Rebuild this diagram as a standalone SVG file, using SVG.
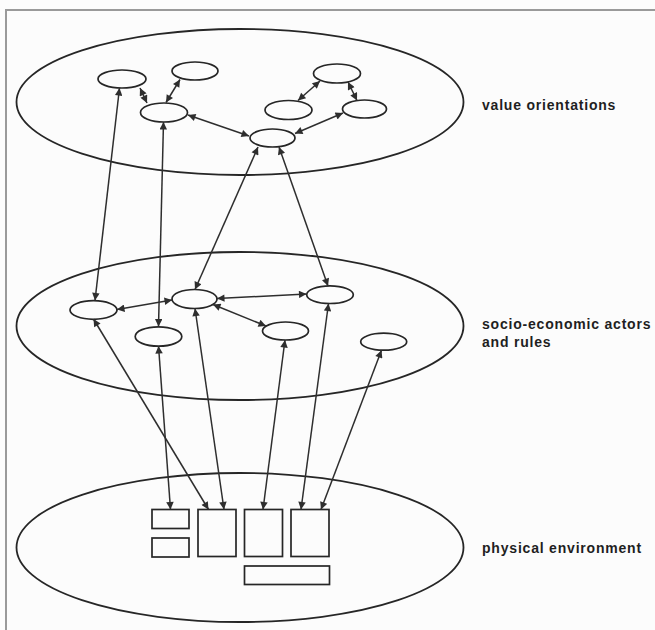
<svg xmlns="http://www.w3.org/2000/svg" width="655" height="630" viewBox="0 0 655 630">
<style>
.bg{fill:#fcfcfc}
.frame{fill:none;stroke:#9a9a9a;stroke-width:2}
.layer{fill:none;stroke:#262626;stroke-width:1.8}
.node{fill:none;stroke:#262626;stroke-width:1.7}
.conn line{stroke:#2e2e2e;stroke-width:1.5;marker-start:url(#ah);marker-end:url(#ah)}
.lbl{font-family:"Liberation Sans",Arial,sans-serif;font-weight:bold;font-size:14px;letter-spacing:0.8px;fill:#1f1f1f}
</style>
<defs>
<marker id="ah" viewBox="0 0 10 10" refX="10" refY="5" markerWidth="10" markerHeight="7.5" markerUnits="userSpaceOnUse" orient="auto-start-reverse">
<path d="M0,0 L10,5 L0,10 z" fill="#2e2e2e"/>
</marker>
</defs>
<rect class="bg" x="0" y="0" width="655" height="630"/>
<path class="frame" d="M6,630 L6,10 L655,10"/>

<g id="layer-values">
<ellipse class="layer" cx="240" cy="102" rx="223.5" ry="73"/>
<text class="lbl" x="482" y="110">value orientations</text>
</g>
<g id="layer-actors">
<ellipse class="layer" cx="240" cy="326" rx="223.5" ry="74"/>
<text class="lbl" x="482" y="329">socio-economic actors</text>
<text class="lbl" x="482" y="347">and rules</text>
</g>
<g id="layer-physical">
<ellipse class="layer" cx="240" cy="547.5" rx="223.5" ry="74.5"/>
<text class="lbl" x="482" y="553">physical environment</text>
</g>

<g id="v-A"><ellipse class="node" cx="122" cy="79" rx="24" ry="9"/></g>
<g id="v-B"><ellipse class="node" cx="195" cy="71" rx="23" ry="9"/></g>
<g id="v-C"><ellipse class="node" cx="164" cy="112.5" rx="23.5" ry="9.5"/></g>
<g id="v-D"><ellipse class="node" cx="337" cy="73.5" rx="23.5" ry="9.5"/></g>
<g id="v-E"><ellipse class="node" cx="288.5" cy="110" rx="23.5" ry="9.5"/></g>
<g id="v-F"><ellipse class="node" cx="364.5" cy="109" rx="22" ry="9"/></g>
<g id="v-G"><ellipse class="node" cx="272.5" cy="138" rx="22.5" ry="9"/></g>

<g id="s-H"><ellipse class="node" cx="93.5" cy="310" rx="23.5" ry="9.3"/></g>
<g id="s-I"><ellipse class="node" cx="194.5" cy="299" rx="22.5" ry="9.5"/></g>
<g id="s-J"><ellipse class="node" cx="330" cy="294.7" rx="23.3" ry="8.8"/></g>
<g id="s-K"><ellipse class="node" cx="158.5" cy="336.5" rx="23.3" ry="9.7"/></g>
<g id="s-L"><ellipse class="node" cx="285.5" cy="331" rx="23" ry="9"/></g>
<g id="s-M"><ellipse class="node" cx="383.7" cy="341.7" rx="23" ry="8.5"/></g>

<g id="p-R1"><rect class="node" x="152" y="509.5" width="37" height="19"/></g>
<g id="p-R2"><rect class="node" x="152" y="538" width="37" height="19"/></g>
<g id="p-R3"><rect class="node" x="198" y="509.5" width="38" height="47"/></g>
<g id="p-R4"><rect class="node" x="244.5" y="509.5" width="38" height="47"/></g>
<g id="p-R5"><rect class="node" x="291" y="509.5" width="38" height="47"/></g>
<g id="p-R6"><rect class="node" x="244.5" y="566" width="85" height="18.5"/></g>

<g id="connectors" class="conn">
<line x1="140" y1="88" x2="147" y2="103"/>
<line x1="180" y1="79.5" x2="166" y2="102.5"/>
<line x1="188" y1="115" x2="249" y2="136"/>
<line x1="295" y1="133.5" x2="343" y2="113"/>
<line x1="320" y1="81" x2="298" y2="100.5"/>
<line x1="348" y1="82" x2="357" y2="100.5"/>
<line x1="119.5" y1="88" x2="95" y2="300.5"/>
<line x1="163.5" y1="122" x2="158.5" y2="326.5"/>
<line x1="258" y1="147" x2="195" y2="289.5"/>
<line x1="279" y1="147" x2="328" y2="286"/>
<line x1="172" y1="300" x2="117" y2="309.5"/>
<line x1="217" y1="298.5" x2="306.5" y2="294"/>
<line x1="213" y1="304.5" x2="266" y2="326"/>
<line x1="93.5" y1="319" x2="208.5" y2="509.5"/>
<line x1="158.5" y1="346" x2="170.5" y2="509.5"/>
<line x1="195" y1="308.5" x2="224" y2="509.5"/>
<line x1="285" y1="340" x2="263" y2="509.5"/>
<line x1="328.5" y1="303.5" x2="301" y2="509.5"/>
<line x1="381.5" y1="350.2" x2="321" y2="509.5"/>
</g>
</svg>
